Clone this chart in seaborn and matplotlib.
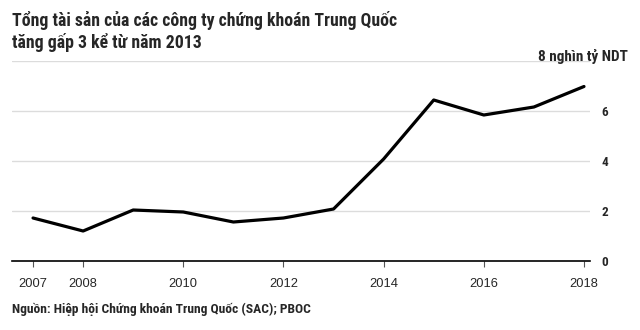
import numpy as np
import matplotlib.pyplot as plt
import seaborn as sns
import pandas as pd

years = [2007, 2008, 2009, 2010, 2011, 2012, 2013, 2014, 2015, 2016, 2017, 2018]
assets = [1.72, 1.2, 2.04, 1.96, 1.56, 1.72, 2.08, 4.08, 6.44, 5.84, 6.16, 6.98]
xticks = [2007, 2008, 2010, 2012, 2014, 2016, 2018]
yticks = [0, 2, 4, 6]

title = "Tổng tài sản của các công ty chứng khoán Trung Quốc\ntăng gấp 3 kể từ năm 2013"
unit_label = "8 nghìn tỷ NDT"
source = "Nguồn: Hiệp hội Chứng khoán Trung Quốc (SAC); PBOC"

sns.set_style("white")
plt.rcParams['font.family'] = ['Liberation Sans', 'DejaVu Sans']
narrow = ['Roboto Condensed', 'Liberation Sans', 'DejaVu Sans']

df = pd.DataFrame({"year": years, "assets": assets})

fig = plt.figure(figsize=(6.4, 3.3), dpi=100)
ax = fig.add_axes([12/640, 1 - 261/330, 578/640, 200/330])

sns.lineplot(data=df, x="year", y="assets", ax=ax, color="black", linewidth=2.3)

ax.set_xlim(2006.58, 2018.12)
ax.set_ylim(0, 8)
for y in yticks[1:] + [8]:
    ax.axhline(y, color="#dcdcdc", linewidth=1, zorder=0)

for s in ["left", "right", "top"]:
    ax.spines[s].set_visible(False)
ax.spines["bottom"].set_color("black")
ax.spines["bottom"].set_linewidth(1.2)

ax.set_xticks(xticks)
ax.set_xticklabels([str(x) for x in xticks], fontsize=9.3)
ax.tick_params(axis="x", direction="out", length=4, width=0.8, color="#555555", pad=8, bottom=True)

ax.yaxis.tick_right()
ax.set_yticks(yticks)
ax.set_yticklabels([str(y) for y in yticks], fontsize=9.5, fontweight="bold", family=narrow)
ax.tick_params(axis="y", length=0, pad=8)

ax.set_xlabel("")
ax.set_ylabel("")

fig.text(628/640, 1 - 57/330, unit_label, ha="right", va="center", fontsize=11,
         fontweight="bold", family=narrow)
fig.text(12/640, 1 - 11/330, title, ha="left", va="top", fontsize=12.8, fontweight="bold",
         linespacing=1.2, family=narrow)
fig.text(12/640, 1 - 309/330, source, ha="left", va="center", fontsize=9.7, fontweight="bold",
         family=narrow)

fig.savefig("out.png", dpi=100)
